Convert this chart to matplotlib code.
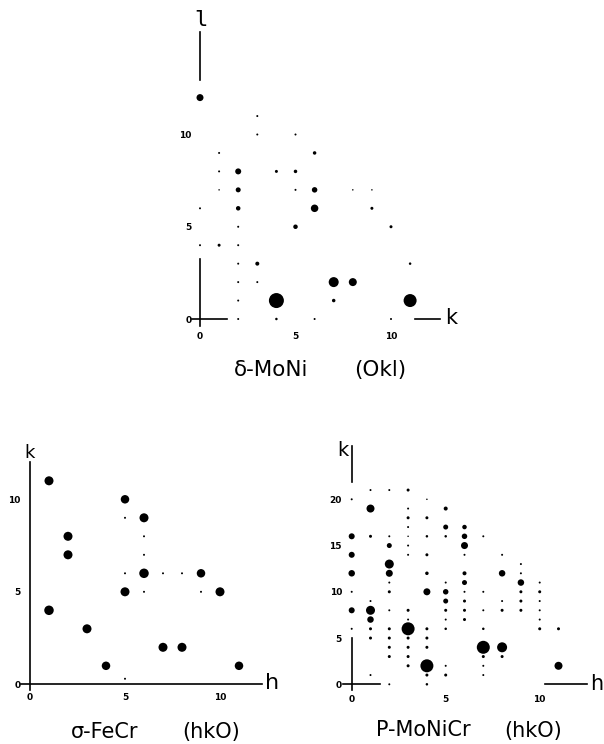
import numpy as np
import matplotlib.pyplot as plt

W, H = 604, 744

# delta-MoNi (0kl) : k, l, spot size (apparent diameter)
moni_k = [2, 4, 6, 10,  2, 4, 7, 11,  2, 3, 7, 8,  2, 3, 11,  0, 1, 2,
          2, 5, 10,  0, 2, 6, 9,  1, 2, 5, 6, 8, 9,  1, 2, 4, 5,  1, 6,
          3, 5,  3,  0]
moni_l = [0, 0, 0, 0,  1, 1, 1, 1,  2, 2, 2, 2,  3, 3, 3,  4, 4, 4,
          5, 5, 5,  6, 6, 6, 6,  7, 7, 7, 7, 7, 7,  8, 8, 8, 8,  9, 9,
          10, 10,  11,  12]
moni_i = [2, 2.5, 2, 2,  2, 15, 3.5, 13,  2, 2, 10, 8,  2, 4, 2.5,  2, 3, 2,
          2, 4.5, 3,  2, 4.5, 7.5, 3,  1.5, 5, 2, 5.5, 1.5, 1.5,  2, 6, 3, 3.5,  2, 3.5,
          2, 2,  2,  7]

# sigma-FeCr (hk0)
fecr_h = [1, 5, 5, 6, 2, 6, 2, 6, 5, 6, 7, 8, 9, 5, 6, 9, 10, 1, 3, 7, 8, 4, 11, 5]
fecr_k = [11, 10, 9, 9, 8, 8, 7, 7, 6, 6, 6, 6, 6, 5, 5, 5, 5, 4, 3, 2, 2, 1, 1, 0.3]
fecr_i = [9, 8.5, 2, 9, 9, 2, 9, 2, 2, 9.5, 2, 2, 8.5, 9, 2, 2, 9, 9.5, 9, 9, 9, 8.5, 8.5, 2]

# P-MoNiCr (hk0)
p_h = [1, 2, 3,  0, 4,  1, 3, 5,  3, 4,  3, 5, 6,
       0, 1, 2, 3, 4, 5, 6, 7,  2, 3, 6,  0, 3, 4, 6, 8,  2, 9,
       0, 2, 4, 6, 8, 9,  2, 5, 6, 9, 10,  0, 2, 4, 5, 6, 7, 9, 10,
       1, 5, 6, 8, 9, 10,  0, 1, 2, 3, 5, 6, 7, 8, 9, 10,  1, 3, 5, 6, 10,
       0, 1, 2, 3, 4, 5, 7, 10, 11,  1, 2, 3, 4,  2, 3, 4, 7, 8,
       2, 3, 7, 8,  3, 4, 5, 7, 11,  1, 4, 5, 7,  2, 4]
p_k = [21, 21, 21,  20, 20,  19, 19, 19,  18, 18,  17, 17, 17,
       16, 16, 16, 16, 16, 16, 16, 16,  15, 15, 15,  14, 14, 14, 14, 14,  13, 13,
       12, 12, 12, 12, 12, 12,  11, 11, 11, 11, 11,  10, 10, 10, 10, 10, 10, 10, 10,
       9, 9, 9, 9, 9, 9,  8, 8, 8, 8, 8, 8, 8, 8, 8, 8,  7, 7, 7, 7, 7,
       6, 6, 6, 6, 6, 6, 6, 6, 6,  5, 5, 5, 5,  4, 4, 4, 4, 4,
       3, 3, 3, 3,  2, 2, 2, 2, 2,  1, 1, 1, 1,  0, 0]
p_i = [2, 2, 3,  2, 1.5,  8, 2, 4,  3, 3,  2, 5, 4.5,
       6, 3, 2, 1.5, 2.5, 2.5, 5.5, 2,  5, 2, 7,  6, 2, 3, 2, 2,  9, 2,
       6.5, 7, 3.5, 4, 6.5, 2,  2, 2, 5, 6.5, 2,  2, 3, 7, 5.5, 2, 2, 3, 3,
       2, 5, 3, 2, 3, 2,  6, 9, 2, 3, 3, 3, 2, 3, 3, 2,  6.5, 2, 2, 3, 2,
       2, 3, 3, 13, 3, 2.5, 2.5, 3, 3,  3, 3, 3, 3,  3, 3, 3, 13, 10,
       3, 3, 3, 3,  3, 13, 2, 2, 8,  2, 3, 3, 2,  2, 2.5]

fig = plt.figure(figsize=(W / 100, H / 100), dpi=100)


def panel(ox, oy, ux, uy, xlim, ylim):
    # axes placed so that data (0,0) sits at pixel (ox, oy)
    x0, x1 = xlim
    y0, y1 = ylim
    ax = fig.add_axes([(ox + x0 * ux) / W, 1 - (oy - y0 * uy) / H,
                       (x1 - x0) * ux / W, (y1 - y0) * uy / H])
    ax.set_xlim(xlim)
    ax.set_ylim(ylim)
    ax.patch.set_visible(False)
    ax.spines['top'].set_visible(False)
    ax.spines['right'].set_visible(False)
    ax.spines['left'].set_position(('data', 0))
    ax.spines['bottom'].set_position(('data', 0))
    for s in ['left', 'bottom']:
        ax.spines[s].set_linewidth(1.2)
    ax.tick_params(length=0)
    return ax


def spots(ax, x, y, inten):
    d = np.array(inten) * 0.72
    ax.scatter(x, y, s=d ** 2, c='black', linewidths=0, clip_on=False)


tick_kw = dict(fontweight='bold', fontsize=6.5)

# --- delta-MoNi ---
ax1 = panel(200, 319, 19.1, 18.45, (-1, 14.5), (-1.5, 17))
ax1.spines['left'].set_bounds(-0.4, 3.25)
ax1.spines['bottom'].set_bounds(-0.4, 1.4)
ax1.set_xticks([0, 5, 10], ['0', '5', '10'], **tick_kw)
ax1.set_yticks([0, 5, 10], ['0', '5', '10'], **tick_kw)
ax1.tick_params(axis='x', pad=9)
ax1.tick_params(axis='y', pad=6)
ax1.plot([11.26, 12.57], [0, 0], color='black', lw=1.2)
ax1.plot([0, 0], [12.95, 15.55], color='black', lw=1.2)
ax1.text(13.15, 0.05, 'k', ha='center', va='center', fontsize=15)
ax1.text(0.05, 16.2, 'l', ha='center', va='center', fontsize=16,
         family='DejaVu Sans Mono')
spots(ax1, moni_k, moni_l, moni_i)

# --- sigma-FeCr ---
ax2 = panel(30, 684.3, 19, 18.5, (-1.2, 13.5), (-1, 13))
ax2.spines['left'].set_bounds(-0.3, 12.0)
ax2.spines['bottom'].set_bounds(-0.5, 12.2)
ax2.set_xticks([0, 5, 10], ['0', '5', '10'], **tick_kw)
ax2.set_yticks([0, 5, 10], ['0', '5', '10'], **tick_kw)
ax2.tick_params(axis='x', pad=6)
ax2.tick_params(axis='y', pad=7)
ax2.text(12.75, 0.08, 'h', ha='center', va='center', fontsize=16)
ax2.text(-0.03, 12.5, 'k', ha='center', va='center', fontsize=13)
spots(ax2, fecr_h, fecr_k, fecr_i)

# --- P-MoNiCr ---
ax3 = panel(351.7, 684.3, 18.8, 9.25, (-1.5, 13.8), (-2, 27))
ax3.spines['left'].set_bounds(-0.6, 4.97)
ax3.spines['bottom'].set_bounds(-0.48, 1.5)
ax3.set_xticks([0, 5, 10], ['0', '5', '10'], **tick_kw)
ax3.set_yticks([0, 5, 10, 15, 20], ['0', '5', '10', '15', '20'], **tick_kw)
ax3.tick_params(axis='x', pad=8)
ax3.tick_params(axis='y', pad=7)
ax3.plot([10.28, 12.5], [0, 0], color='black', lw=1.2)
ax3.plot([0, 0], [21.9, 25.8], color='black', lw=1.2)
ax3.text(13.05, 0.05, 'h', ha='center', va='center', fontsize=15)
ax3.text(-0.48, 25.3, 'k', ha='center', va='center', fontsize=14)
spots(ax3, p_h, p_k, p_i)

# panel captions
def caption(cx, base, txt, size):
    fig.text(cx / W, 1 - base / H, txt, ha='center', va='baseline', fontsize=size)

caption(271, 376, 'δ-MoNi', 15.5)
caption(380, 376, '(Okl)', 15.5)
caption(105, 738, 'σ-FeCr', 15)
caption(211, 738, '(hkO)', 15)
caption(423, 736.5, 'P-MoNiCr', 15)
caption(533.5, 736.5, '(hkO)', 15)

fig.savefig('out.png', dpi=100)
